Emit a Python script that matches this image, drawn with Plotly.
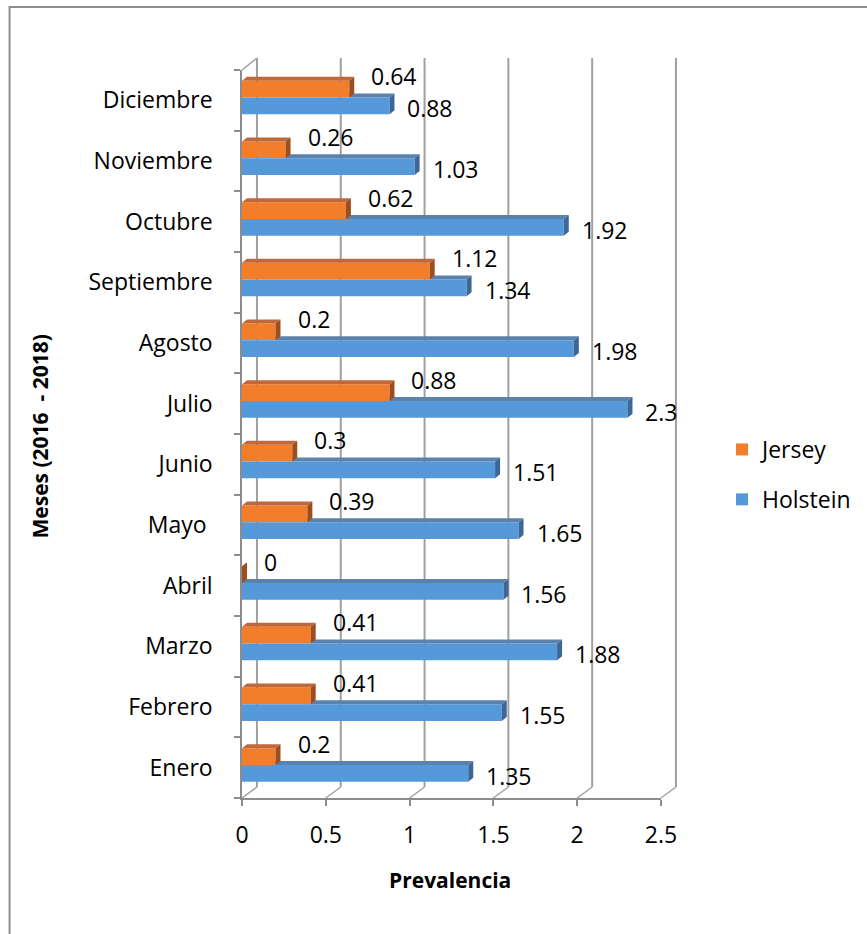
import plotly.graph_objects as go

# Monthly prevalence by breed (2016 - 2018)
months = ["Enero", "Febrero", "Marzo", "Abril", "Mayo ", "Junio", "Julio",
          "Agosto", "Septiembre", "Octubre", "Noviembre", "Diciembre"]
jersey = [0.2, 0.41, 0.41, 0, 0.39, 0.3, 0.88, 0.2, 1.12, 0.62, 0.26, 0.64]
holstein = [1.35, 1.55, 1.88, 1.56, 1.65, 1.51, 2.3, 1.98, 1.34, 1.92, 1.03, 0.88]
x_ticks = [0, 0.5, 1, 1.5, 2, 2.5]

# ---- geometry ----
W, H = 867, 934
ML, PW = 242, 420
MT, PH = 70, 728
MR = W - ML - PW
MB = H - MT - PH
XMAX = 2.5
YMIN, YMAX = -0.5, 11.5
PX_X = PW / XMAX
PX_Y = PH / (YMAX - YMIN)

# bar layout inside a category slot
BAR_W = 0.276
H_OFF = -0.231
J_OFF = H_OFF + BAR_W
# bar depth (3-D look) in data units
BDX = 5 / PX_X
BDY = 4 / PX_Y
# back wall depth in paper units
WDX = 15 / PW
WDY_BOT = 11 / PH
WDY_TOP = 12 / PH

FONT = "Open Sans"
FS = 23
ORANGE, ORANGE_TOP, ORANGE_CAP = "#F27D2A", "#C0683A", "#9E4E1E"
BLUE, BLUE_TOP, BLUE_CAP = "#5599DA", "#5C82AC", "#3D6796"
GRID = "#A0A0A0"
AXIS = "#8C8C8C"

ypos = list(range(len(months)))

fig = go.Figure()

fig.add_trace(go.Bar(
    name="Jersey", y=ypos, x=jersey, orientation="h",
    offset=J_OFF, width=BAR_W, marker=dict(color=ORANGE, line=dict(width=0)),
    legendgroup="j", hoverinfo="x",
))
fig.add_trace(go.Bar(
    name="Holstein", y=ypos, x=holstein, orientation="h",
    offset=H_OFF, width=BAR_W, marker=dict(color=BLUE, line=dict(width=0)),
    legendgroup="h", hoverinfo="x",
))


def poly(xs, ys, color):
    fig.add_trace(go.Scatter(
        x=xs + [xs[0]], y=ys + [ys[0]], mode="lines", fill="toself",
        fillcolor=color, line=dict(width=0, color=color),
        showlegend=False, hoverinfo="skip",
    ))


# top faces and end caps of Holstein bars (partly hidden behind Jersey)
for i, (hv, jv) in enumerate(zip(holstein, jersey)):
    bot = i + H_OFF
    top = bot + BAR_W
    poly([jv, hv, hv + BDX, jv], [top, top, top + BDY, top + BDY], BLUE_TOP)
    poly([hv, hv, hv + BDX, hv + BDX], [bot, top, top + BDY, bot + BDY], BLUE_CAP)

# top faces and end caps of Jersey bars
for i, jv in enumerate(jersey):
    bot = i + J_OFF
    top = bot + BAR_W
    poly([0, jv, jv + BDX, BDX], [top, top, top + BDY, top + BDY], ORANGE_TOP)
    poly([jv, jv, jv + BDX, jv + BDX], [bot, top, top + BDY, bot + BDY], ORANGE_CAP)

# value labels
annotations = []
for i, (hv, jv) in enumerate(zip(holstein, jersey)):
    annotations.append(dict(
        x=hv, y=i, xref="x", yref="y", text=f"{hv:g}", showarrow=False,
        xanchor="left", yanchor="middle", xshift=16, yshift=-8,
        font=dict(family=FONT, size=FS, color="#000000"),
    ))
    annotations.append(dict(
        x=jv, y=i, xref="x", yref="y", text=f"{jv:g}", showarrow=False,
        xanchor="left", yanchor="middle", xshift=20, yshift=24,
        font=dict(family=FONT, size=FS, color="#000000"),
    ))

# axis titles
annotations.append(dict(
    x=(40 - ML) / PW, y=(MT + PH - 436) / PH, xref="paper", yref="paper",
    text="<b>Meses (2016  - 2018)</b>", textangle=-90, showarrow=False,
    xanchor="center", yanchor="middle",
    font=dict(family=FONT, size=21, color="#000000"),
))
annotations.append(dict(
    x=(450 - ML) / PW, y=(MT + PH - 880) / PH, xref="paper", yref="paper",
    text="<b>Prevalencia</b>", showarrow=False,
    xanchor="center", yanchor="middle",
    font=dict(family=FONT, size=21, color="#000000"),
))

# back wall gridlines and floor edges
shapes = []
for v in x_ticks:
    xp = v / XMAX
    shapes.append(dict(type="line", xref="paper", yref="paper", layer="below",
                       x0=xp + WDX, x1=xp + WDX, y0=WDY_BOT, y1=1 + WDY_TOP,
                       line=dict(color=GRID, width=2)))
    shapes.append(dict(type="line", xref="paper", yref="paper", layer="below",
                       x0=xp, x1=xp + WDX, y0=0, y1=WDY_BOT,
                       line=dict(color=GRID, width=1.5)))
shapes.append(dict(type="line", xref="paper", yref="paper", layer="below",
                   x0=0, x1=WDX, y0=1, y1=1 + WDY_TOP,
                   line=dict(color=GRID, width=1.5)))
# chart frame
shapes.append(dict(type="rect", xref="paper", yref="paper", layer="below",
                   x0=(9 - ML) / PW, x1=(900 - ML) / PW,
                   y0=(MT + PH - 960) / PH, y1=(MT + PH - 7) / PH,
                   line=dict(color="#8F8F8F", width=2), fillcolor="rgba(0,0,0,0)"))

fig.update_layout(
    width=W, height=H,
    margin=dict(l=ML, r=MR, t=MT, b=MB, pad=0),
    paper_bgcolor="white", plot_bgcolor="rgba(0,0,0,0)",
    barmode="overlay",
    showlegend=True,
    legend=dict(
        x=(722 - ML) / PW, y=(MT + PH - 428) / PH, xanchor="left", yanchor="top",
        traceorder="grouped", tracegroupgap=17,
        font=dict(family=FONT, size=FS, color="#000000"),
        bgcolor="rgba(0,0,0,0)",
    ),
    font=dict(family=FONT, size=FS, color="#000000"),
    annotations=annotations,
    shapes=shapes,
    xaxis=dict(
        range=[0, XMAX], tickmode="array", tickvals=x_ticks,
        ticktext=[f"{v:g}" for v in x_ticks],
        showgrid=False, zeroline=False,
        showline=True, linecolor=AXIS, linewidth=1.5,
        ticks="outside", ticklen=6, tickcolor=AXIS, tickwidth=1.5,
        ticklabelstandoff=10,
        tickfont=dict(family=FONT, size=FS, color="#000000"),
        fixedrange=True,
    ),
    yaxis=dict(
        range=[YMIN, YMAX], tickmode="array", tickvals=ypos, ticktext=months,
        showgrid=False, zeroline=False,
        showline=True, linecolor=AXIS, linewidth=1.5,
        ticks="", ticklabelstandoff=23,
        minor=dict(tickmode="array",
                   tickvals=[k - 0.5 for k in range(len(months) + 1)],
                   ticks="outside", ticklen=6, tickcolor=AXIS, tickwidth=1.5,
                   showgrid=False),
        tickfont=dict(family=FONT, size=FS, color="#000000"),
        fixedrange=True,
    ),
)

fig.write_html("out.html")
